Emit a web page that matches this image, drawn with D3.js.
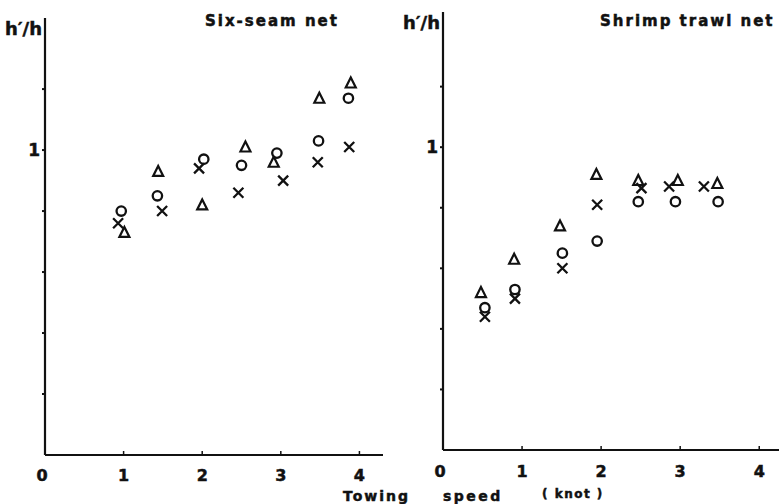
<!DOCTYPE html>
<html>
<head>
<meta charset="utf-8">
<script src="https://cdn.jsdelivr.net/npm/d3@7"></script>
<style>
body{margin:0;background:#fff;}
text{font-family:"DejaVu Sans",sans-serif;font-weight:bold;fill:#111;stroke:#111;stroke-width:0.5;}
</style>
</head>
<body>
<svg id="chart" width="783" height="504"></svg>
<script>
const speedTicks=[0,1,2,3,4];
const ratioTicks=[0.2,0.4,0.6,0.8,1.0,1.2];
const ratioLabels={1:"1"};

// six-seam net
const sixTriangle=[[1.01,0.73],[1.44,0.93],[2.0,0.82],[2.55,1.01],[2.91,0.96],[3.49,1.17],[3.89,1.22]];
const sixCircle=[[0.97,0.80],[1.43,0.85],[2.02,0.97],[2.50,0.95],[2.95,0.99],[3.48,1.03],[3.86,1.17]];
const sixCross=[[0.93,0.76],[1.49,0.80],[1.96,0.94],[2.46,0.86],[3.03,0.90],[3.47,0.96],[3.87,1.01]];

// shrimp trawl net
const shrimpTriangle=[[0.48,0.52],[0.90,0.63],[1.48,0.74],[1.94,0.91],[2.47,0.89],[2.97,0.89],[3.47,0.88]];
const shrimpCircle=[[0.53,0.47],[0.91,0.53],[1.51,0.65],[1.95,0.69],[2.47,0.82],[2.94,0.82],[3.48,0.82]];
const shrimpCross=[[0.53,0.44],[0.91,0.50],[1.51,0.60],[1.95,0.81],[2.51,0.865],[2.86,0.87],[3.30,0.87]];

const svg=d3.select("#chart");

function panel(opt){
  const x=d3.scaleLinear().domain([0,opt.xMax]).range([opt.left,opt.right]);
  const y=d3.scaleLinear().domain([0,1.42]).range([opt.bottom,opt.top]);
  const g=svg.append("g");

  // axes
  g.append("line").attr("x1",opt.left).attr("x2",opt.left).attr("y1",opt.axisTop).attr("y2",opt.bottom)
    .attr("stroke","#111").attr("stroke-width",2.2);
  g.append("line").attr("x1",opt.left).attr("x2",opt.right).attr("y1",opt.bottom).attr("y2",opt.bottom)
    .attr("stroke","#111").attr("stroke-width",2.2);

  g.selectAll(".yt").data(ratioTicks).join("line")
    .attr("x1",opt.left-3).attr("x2",opt.left).attr("y1",d=>y(d)).attr("y2",d=>y(d))
    .attr("stroke","#111").attr("stroke-width",2);
  g.selectAll(".yl").data(ratioTicks.filter(d=>ratioLabels[d])).join("text")
    .attr("x",opt.left-5).attr("y",d=>y(d)+6).attr("text-anchor","end")
    .attr("font-size",17).text(d=>ratioLabels[d]);

  g.selectAll(".xt").data(speedTicks.slice(1)).join("line")
    .attr("x1",d=>x(d)).attr("x2",d=>x(d)).attr("y1",opt.bottom-4).attr("y2",opt.bottom)
    .attr("stroke","#111").attr("stroke-width",1.5);
  g.selectAll(".xl").data(speedTicks).join("text")
    .attr("x",d=>x(d)-(d===0?3:0)).attr("y",opt.labelY).attr("text-anchor","middle")
    .attr("font-size",16).text(d=>d);

  g.append("text").attr("x",opt.left-3).attr("y",opt.axisTop+17).attr("text-anchor","end")
    .attr("font-size",18).text("h\u2032/h");
  g.append("text").attr("x",opt.titleX).attr("y",26).attr("font-size",15)
    .attr("letter-spacing",2).text(opt.title);

  // markers
  g.selectAll(".c").data(opt.circle).join("circle")
    .attr("cx",d=>x(d[0])).attr("cy",d=>y(d[1])).attr("r",4.7)
    .attr("fill","none").attr("stroke","#111").attr("stroke-width",2.3);
  g.selectAll(".t").data(opt.triangle).join("path")
    .attr("d",d=>{const cx=x(d[0]),cy=y(d[1]);return `M${cx},${cy-5.5}L${cx+5},${cy+4.5}L${cx-5},${cy+4.5}Z`;})
    .attr("fill","none").attr("stroke","#111").attr("stroke-width",2.2).attr("stroke-linejoin","miter");
  g.selectAll(".x").data(opt.cross).join("path")
    .attr("d",d=>{const cx=x(d[0]),cy=y(d[1]),s=5;return `M${cx-s},${cy-s}L${cx+s},${cy+s}M${cx+s},${cy-s}L${cx-s},${cy+s}`;})
    .attr("stroke","#111").attr("stroke-width",2.3);
}

panel({left:45,right:383,xMax:4.3,bottom:455,top:22,axisTop:18,labelY:481,title:"Six-seam net",titleX:205,
  triangle:sixTriangle,circle:sixCircle,cross:sixCross});
panel({left:443,right:779,xMax:4.25,bottom:450,top:20,axisTop:12,labelY:477,title:"Shrimp trawl net",titleX:600,
  triangle:shrimpTriangle,circle:shrimpCircle,cross:shrimpCross});

svg.append("text").attr("x",343).attr("y",501).attr("font-size",14).attr("letter-spacing",2).text("Towing");
svg.append("text").attr("x",443).attr("y",501).attr("font-size",14).attr("letter-spacing",2.5).text("speed");
svg.append("text").attr("x",542).attr("y",498).attr("font-size",12).attr("letter-spacing",1.5).text("( knot )");
</script>
</body>
</html>
